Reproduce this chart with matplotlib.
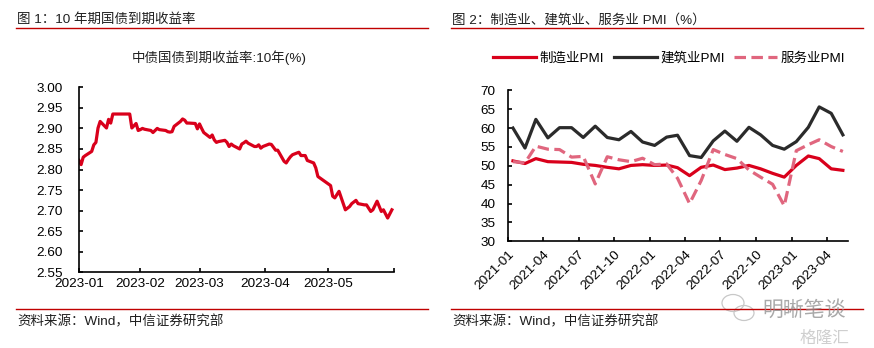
import matplotlib
matplotlib.use("Agg")
import matplotlib.pyplot as plt
import matplotlib.dates as mdates
from matplotlib.lines import Line2D
from matplotlib.patches import Ellipse
import pandas as pd

plt.rcParams['font.family'] = ['Liberation Sans', 'Noto Sans CJK SC', 'DejaVu Sans']

# ---------------- Data: 10Y CGB yield (%) ----------------
yield_dates = [
    '2023-01-03', '2023-01-04', '2023-01-05', '2023-01-06', '2023-01-09', '2023-01-10',
    '2023-01-11', '2023-01-12', '2023-01-13', '2023-01-16', '2023-01-17', '2023-01-18',
    '2023-01-19', '2023-01-20', '2023-01-27', '2023-01-28', '2023-01-30', '2023-01-31',
    '2023-02-01', '2023-02-02', '2023-02-03', '2023-02-06', '2023-02-07', '2023-02-08',
    '2023-02-09', '2023-02-10', '2023-02-13', '2023-02-14', '2023-02-15', '2023-02-16',
    '2023-02-17', '2023-02-20', '2023-02-21', '2023-02-22', '2023-02-23', '2023-02-24',
    '2023-02-27', '2023-02-28', '2023-03-01', '2023-03-02', '2023-03-03', '2023-03-06',
    '2023-03-07', '2023-03-08', '2023-03-09', '2023-03-10', '2023-03-13', '2023-03-14',
    '2023-03-15', '2023-03-16', '2023-03-17', '2023-03-20', '2023-03-21', '2023-03-22',
    '2023-03-23', '2023-03-24', '2023-03-27', '2023-03-28', '2023-03-29', '2023-03-30',
    '2023-03-31', '2023-04-03', '2023-04-04', '2023-04-06', '2023-04-07', '2023-04-10',
    '2023-04-11', '2023-04-12', '2023-04-13', '2023-04-14', '2023-04-17', '2023-04-18',
    '2023-04-19', '2023-04-20', '2023-04-21', '2023-04-24', '2023-04-25', '2023-04-26',
    '2023-05-02', '2023-05-03', '2023-05-04', '2023-05-06', '2023-05-09', '2023-05-11',
    '2023-05-12', '2023-05-14', '2023-05-15', '2023-05-18', '2023-05-19', '2023-05-21',
    '2023-05-22', '2023-05-24', '2023-05-26', '2023-05-27', '2023-05-29', '2023-05-31',
]
yield_values = [
    2.822, 2.812, 2.830, 2.834, 2.844, 2.860,
    2.866, 2.901, 2.917, 2.901, 2.922, 2.913,
    2.935, 2.935, 2.935, 2.901, 2.912, 2.895,
    2.897, 2.900, 2.898, 2.895, 2.890, 2.895,
    2.900, 2.897, 2.895, 2.892, 2.891, 2.892,
    2.905, 2.917, 2.923, 2.920, 2.913, 2.913,
    2.912, 2.899, 2.911, 2.900, 2.890, 2.878,
    2.884, 2.872, 2.866, 2.868, 2.871, 2.866,
    2.856, 2.862, 2.858, 2.850, 2.862, 2.865,
    2.869, 2.864, 2.856, 2.856, 2.860, 2.852,
    2.856, 2.862, 2.861, 2.847, 2.847, 2.820,
    2.816, 2.824, 2.831, 2.836, 2.842, 2.834,
    2.834, 2.834, 2.822, 2.816, 2.804, 2.783,
    2.761, 2.735, 2.731, 2.747, 2.702, 2.710,
    2.717, 2.725, 2.717, 2.714, 2.714, 2.698,
    2.702, 2.723, 2.698, 2.702, 2.682, 2.702,
]
yield_ticks = ['2023-01', '2023-02', '2023-03', '2023-04', '2023-05', '']

# ---------------- Data: PMI ----------------
pmi_months = [
    '2021-01', '2021-02', '2021-03', '2021-04', '2021-05', '2021-06', '2021-07', '2021-08',
    '2021-09', '2021-10', '2021-11', '2021-12', '2022-01', '2022-02', '2022-03', '2022-04',
    '2022-05', '2022-06', '2022-07', '2022-08', '2022-09', '2022-10', '2022-11', '2022-12',
    '2023-01', '2023-02', '2023-03', '2023-04', '2023-05',
]
mfg_pmi = [51.3, 50.6, 51.9, 51.1, 51.0, 50.9, 50.4, 50.1, 49.6, 49.2, 50.1, 50.3,
           50.1, 50.2, 49.5, 47.4, 49.6, 50.2, 49.0, 49.4, 50.1, 49.2, 48.0, 47.0,
           50.1, 52.6, 51.9, 49.2, 48.8]
con_pmi = [60.0, 54.7, 62.3, 57.4, 60.1, 60.1, 57.5, 60.5, 57.5, 56.9, 59.1, 56.3,
           55.4, 57.6, 58.1, 52.7, 52.2, 56.6, 59.2, 56.5, 60.2, 58.2, 55.4, 54.4,
           56.4, 60.2, 65.6, 63.9, 58.2]
svc_pmi = [51.1, 50.8, 55.2, 54.4, 54.3, 52.3, 52.5, 45.2, 52.4, 51.6, 51.1, 52.0,
           50.3, 50.5, 46.7, 40.0, 46.1, 54.3, 53.0, 51.9, 48.9, 47.0, 45.1, 39.4,
           54.0, 55.6, 56.9, 55.1, 53.8]
pmi_labels = ['制造业PMI', '建筑业PMI', '服务业PMI']

RED = '#D9001B'
DARK = '#2B2B2B'
PINK = '#E0667E'
LINE_RED = '#C00000'
TXT = '#1F1F1F'
FS = 9.7

W, H = 874, 348
fig = plt.figure(figsize=(W / 100, H / 100), dpi=100)


def fx(px):
    return px / W


def fy(py):
    return 1 - py / H


# ---------- headers / footers ----------
fig.text(fx(17), fy(20), '图 1：10 年期国债到期收益率', fontsize=FS, color=TXT, ha='left', va='center')
fig.text(fx(452), fy(20), '图 2：制造业、建筑业、服务业 PMI（%）', fontsize=FS, color=TXT, ha='left', va='center')
for x0, x1 in [(16, 428), (451, 863)]:
    fig.add_artist(Line2D([fx(x0), fx(x1)], [fy(28.3)] * 2, color=LINE_RED, lw=1.0))
    fig.add_artist(Line2D([fx(x0), fx(x1)], [fy(309.3)] * 2, color=LINE_RED, lw=1.0))
fig.text(fx(17), fy(321.5), '资料来源：Wind，中信证券研究部', fontsize=FS, color=TXT, ha='left', va='center')
fig.text(fx(452), fy(321.5), '资料来源：Wind，中信证券研究部', fontsize=FS, color=TXT, ha='left', va='center')

# watermark
fig.text(fx(762), fy(310), '明晰笔谈', fontsize=15, color='#8c8c8c', alpha=0.75, ha='left', va='center')
fig.text(fx(800), fy(338), '格隆汇', fontsize=12, color='#cfcfcf', ha='left', va='center')
for (cx, cy, w, h) in [(733, 303, 22, 17), (744, 313, 20, 15)]:
    fig.add_artist(Ellipse((fx(cx), fy(cy)), fx(w), h / H, fill=False, ec='#c8c8c8', lw=0.9))

# ---------- left chart ----------
ax1 = fig.add_axes([fx(79), fy(272.3), fx(394) - fx(79), fy(87.3) - fy(272.3)])
d1 = pd.to_datetime(yield_dates)
ax1.plot(d1, yield_values, color=RED, lw=2.3, solid_joinstyle='round')
ax1.set_ylim(2.55, 3.00)
ax1.set_yticks([2.55 + 0.05 * i for i in range(10)])
ax1.yaxis.set_major_formatter(matplotlib.ticker.FormatStrFormatter('%.2f'))
x_left = d1[0]
x_right = pd.Timestamp('2023-06-01')
ax1.set_xlim(x_left, x_right)
tick_pos = [x_left] + [pd.Timestamp(m) for m in ['2023-02-01', '2023-03-01', '2023-04-01', '2023-05-01', '2023-06-01']]
ax1.set_xticks(tick_pos)
ax1.set_xticklabels(yield_ticks)
fig.text(fx(219), fy(58), '中债国债到期收益率:10年(%)', fontsize=FS, color=TXT, ha='center', va='center')

# ---------- right chart ----------
ax2 = fig.add_axes([fx(508.3), fy(241.3), fx(848.3) - fx(508.3), fy(90.3) - fy(241.3)])
d2 = pd.to_datetime(pmi_months) + pd.Timedelta(days=12)
ax2.plot(d2, mfg_pmi, color=RED, lw=2.3, label=pmi_labels[0])
ax2.plot(d2, con_pmi, color=DARK, lw=2.3, label=pmi_labels[1])
ax2.plot(d2, svc_pmi, color=PINK, lw=2.3, dashes=(3.6, 1.7), label=pmi_labels[2])
ax2.set_ylim(30, 70)
ax2.set_yticks(range(30, 71, 5))
ax2.set_xlim(pd.Timestamp('2021-01-01'), pd.Timestamp('2023-05-27'))
ax2.xaxis.set_major_locator(mdates.MonthLocator(bymonth=[1, 4, 7, 10]))
ax2.xaxis.set_major_formatter(mdates.DateFormatter('%Y-%m'))
for lab in ax2.get_xticklabels():
    lab.set_rotation(45)
    lab.set_ha('right')
    lab.set_va('top')
    lab.set_rotation_mode('anchor')
ax2.legend(loc='center', bbox_to_anchor=(fx(669), fy(58.3)), bbox_transform=fig.transFigure,
           ncol=3, frameon=False, handlelength=3.2, handletextpad=0.25, columnspacing=0.7,
           fontsize=FS, borderpad=0, borderaxespad=0)

for ax, ypad in [(ax1, 11.5), (ax2, 9.0)]:
    for s in ['top', 'right']:
        ax.spines[s].set_visible(False)
    for s in ['left', 'bottom']:
        ax.spines[s].set_linewidth(1.2)
        ax.spines[s].set_color('black')
    ax.tick_params(axis='both', direction='in', length=3, width=1.2, labelsize=FS, colors='black')
    ax.tick_params(axis='y', pad=ypad)
ax1.tick_params(axis='x', pad=4)
ax2.tick_params(axis='x', pad=5)

fig.savefig('out.png', dpi=100)
